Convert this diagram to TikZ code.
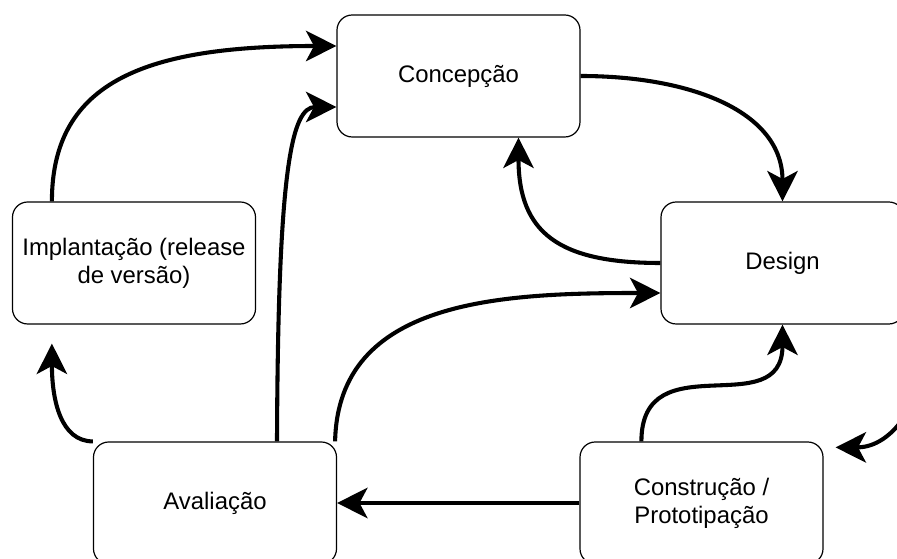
\documentclass[tikz,border=0pt]{standalone}
\usepackage{fontspec}
\setmainfont{Liberation Sans}
\usepackage{tikz}
\usetikzlibrary{arrows.meta,calc}

\begin{document}
\begin{tikzpicture}[font=\fontsize{17}{19.8}\selectfont,
  phase/.style={draw,line width=0.85pt,rounded corners=0.38cm,minimum width=6.075cm,minimum height=3.05cm,inner sep=0pt,align=center},
  flow/.style={line width=2.9pt,-{Stealth[length=0.76cm,width=0.76cm,inset=0.2cm]}}]
\useasboundingbox (0,0) rectangle (22.425,13.975);
% the five phases
\node[phase] (conc) at (11.4625,12.075) {Concepção};
\node[phase] (design) at (19.5625,7.4) {Design};
\node[phase] (impl) at (3.35,7.4) {Implantação (release\\de versão)};
\node[phase] (aval) at (5.375,1.4) {Avaliação};
\node[phase] (constr) at (17.5375,1.4) {Construção /\\Prototipação};
% free arrow ends
\coordinate (implin) at ([shift={(1cm,-0.475cm)}]impl.south west);
\coordinate (constrin) at ([shift={(0.3cm,-0.15cm)}]constr.north east);
% cycle
\draw[flow] ([xshift=1cm]impl.north west) .. controls +(0,3.05) and +(-4.675,0) .. ([yshift=0.75cm]conc.west);
\draw[flow] ([xshift=1.55cm]aval.north) .. controls +(0.025,6.8) and +(-1.125,0) .. ([yshift=-0.775cm]conc.west);
\draw[flow] (conc.east) .. controls +(2.75,0) and +(0,2.25) .. (design.north);
\draw[flow] (design.west) .. controls +(-2.55,0) and +(0,-2.375) .. ([xshift=1.5cm]conc.south);
\draw[flow] ([xshift=-0.05cm]aval.north east) .. controls +(0.075,3.55) and +(-4,0) .. ([yshift=-0.75cm]design.west);
\draw[flow] ([xshift=1.55cm]constr.north west) .. controls +(0,2.5) and +(0,-2.5) .. (design.south);
\draw[flow] (design.east) .. controls +(1.4,0) and +(2.375,0) .. (constrin);
\draw[flow] (constr.west) -- (aval.east);
\draw[flow] (aval.north west) .. controls +(-0.8,0) and +(0,-1.425) .. (implin);
\end{tikzpicture}
\end{document}
